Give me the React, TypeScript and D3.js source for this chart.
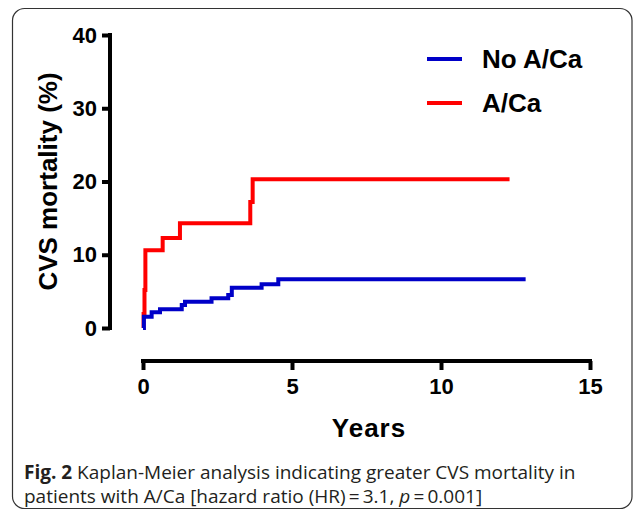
import { useEffect, useRef } from 'react';
import * as d3 from 'd3';

// Kaplan-Meier step points (years, cumulative CVS mortality %)
const noAcaTimes = [0, 0.03, 0.29, 0.57, 1.3, 1.41, 2.3, 2.86, 2.98, 3.98, 4.54, 12.84];
const noAcaValues = [0, 1.54, 2.14, 2.55, 3.14, 3.59, 4.05, 4.5, 5.5, 5.97, 6.65, 6.65];

const acaTimes = [0, 0.02, 0.05, 0.08, 0.66, 1.24, 3.6, 3.68, 12.3];
const acaValues = [0, 1.9, 5.2, 10.6, 12.3, 14.3, 17.2, 20.3, 20.3];

const xTicks = [0, 5, 10, 15];
const yTicks = [0, 10, 20, 30, 40];

const seriesNames = ['No A/Ca', 'A/Ca'];
const seriesColors = ['#0000c8', '#ff0000'];

const W = 634;
const H = 511;

const App = () => {
  const svgRef = useRef<SVGSVGElement>(null);

  useEffect(() => {
    const svg = d3.select(svgRef.current);
    svg.selectAll('*').remove();

    const x = d3.scaleLinear().domain([0, 15]).range([143, 590]);
    const y = d3.scaleLinear().domain([0, 40]).range([328, 35]);

    // outer rounded frame
    svg.append('rect')
      .attr('x', 12.5).attr('y', 8.5)
      .attr('width', 619.5).attr('height', 500)
      .attr('rx', 12)
      .attr('fill', '#fff')
      .attr('stroke', '#333')
      .attr('stroke-width', 1.2);

    const font = 'Liberation Sans, Arial, sans-serif';

    // y axis, offset to the left of the data
    const yAxis = svg.append('g')
      .attr('transform', 'translate(110,0)')
      .call(d3.axisLeft(y).tickValues(yTicks).tickSize(8).tickPadding(5).tickSizeOuter(0));
    yAxis.select('.domain').attr('stroke', '#000').attr('stroke-width', 4)
      .attr('d', `M0,${y(40) - 2}V${y(0) + 2}`);
    yAxis.selectAll('.tick line').attr('stroke', '#000').attr('stroke-width', 4);
    yAxis.selectAll('.tick text')
      .attr('font-family', font).attr('font-size', 22).attr('font-weight', 'bold').attr('fill', '#000');

    // x axis, offset below the data
    const xAxis = svg.append('g')
      .attr('transform', 'translate(0,361)')
      .call(d3.axisBottom(x).tickValues(xTicks).tickSize(9).tickPadding(8).tickSizeOuter(0));
    xAxis.select('.domain').attr('stroke', '#000').attr('stroke-width', 4)
      .attr('d', `M${x(0) - 2},0H${x(15) + 2}`);
    xAxis.selectAll('.tick line').attr('stroke', '#000').attr('stroke-width', 4);
    xAxis.selectAll('.tick text')
      .attr('font-family', font).attr('font-size', 22).attr('font-weight', 'bold').attr('fill', '#000');

    // axis titles
    svg.append('text')
      .attr('transform', `translate(57,${(y(0) + y(40)) / 2}) rotate(-90)`)
      .attr('text-anchor', 'middle')
      .attr('font-family', font).attr('font-size', 26).attr('font-weight', 'bold')
      .text('CVS mortality (%)');

    svg.append('text')
      .attr('x', 369).attr('y', 437)
      .attr('text-anchor', 'middle')
      .attr('font-family', font).attr('font-size', 26).attr('font-weight', 'bold')
      .attr('letter-spacing', 1)
      .text('Years');

    // step curves
    const line = d3.line<[number, number]>()
      .x(d => x(d[0]))
      .y(d => y(d[1]))
      .curve(d3.curveStepAfter);

    const series = [
      d3.zip(acaTimes, acaValues) as [number, number][],
      d3.zip(noAcaTimes, noAcaValues) as [number, number][]
    ];
    const colorsInOrder = [seriesColors[1], seriesColors[0]];
    series.forEach((pts, i) => {
      svg.append('path')
        .datum(pts)
        .attr('d', line)
        .attr('fill', 'none')
        .attr('stroke', colorsInOrder[i])
        .attr('stroke-width', 4);
    });

    // legend
    const leg = svg.append('g');
    seriesNames.forEach((name, i) => {
      const ly = 59 + i * 44;
      leg.append('line')
        .attr('x1', 427).attr('x2', 462)
        .attr('y1', ly).attr('y2', ly)
        .attr('stroke', seriesColors[i]).attr('stroke-width', 4);
      leg.append('text')
        .attr('x', 482).attr('y', ly + 9)
        .attr('font-family', font).attr('font-size', 26).attr('font-weight', 'bold')
        .text(name);
    });

    // caption
    const cap = svg.append('text')
      .attr('font-family', 'Open Sans, sans-serif')
      .attr('font-size', 19)
      .attr('fill', '#231f20');
    const l1 = cap.append('tspan').attr('x', 24).attr('y', 479);
    l1.append('tspan').attr('font-weight', 'bold').text('Fig. 2');
    l1.append('tspan').text(' Kaplan-Meier analysis indicating greater CVS mortality in');
    const l2 = cap.append('tspan').attr('x', 24).attr('y', 503);
    l2.append('tspan').text('patients with A/Ca [hazard ratio (HR)\u2009=\u20093.1, ');
    l2.append('tspan').attr('font-style', 'italic').text('p');
    l2.append('tspan').text('\u2009=\u20090.001]');
  }, []);

  return (
    <svg
      ref={svgRef}
      width={W}
      height={H}
      style={{ display: 'block', position: 'absolute', left: 0, top: 0, background: '#fff' }}
    />
  );
};

export default App;
